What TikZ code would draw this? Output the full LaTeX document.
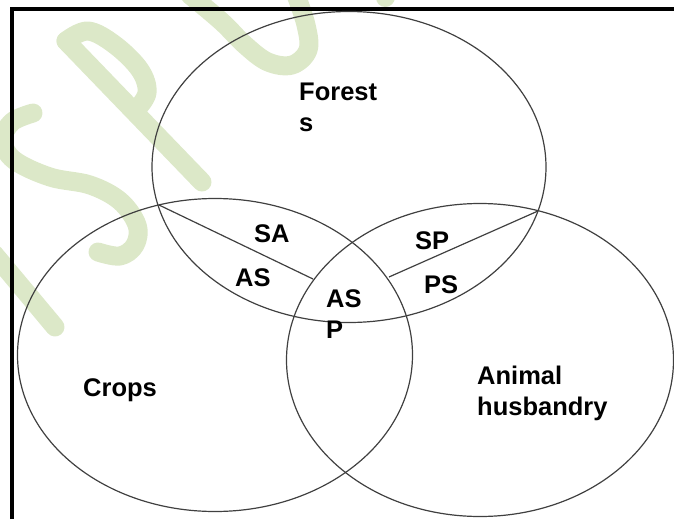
\documentclass[tikz,border=0pt]{standalone}
\usepackage{fontspec}
\setmainfont{Liberation Sans}
\definecolor{wmgreen}{RGB}{220,232,200}
\tikzset{
  venn/.style={draw=black!75, line width=1.2pt},
  frameline/.style={draw=black, line width=3.6pt, line join=miter},
  wmstroke/.style={draw=wmgreen, line width=19pt, line cap=round, line join=round},
  lbl/.style={inner sep=0pt, font=\fontsize{25.5}{31}\selectfont\bfseries, text=black},
}
\begin{document}
\begin{tikzpicture}[x=1pt,y=-1pt]
\useasboundingbox (0,0) rectangle (674,519);
% watermark
\begin{scope}
\clip (0,0) rectangle (674,519);
\draw[wmstroke] (-6,254) -- (55,327);
\draw[wmstroke] plot[smooth, tension=0.6] coordinates {(33,113) (12,122) (3,140) (14,160) (50,177) (90,185) (120,201) (137,225) (135,245) (120,256) (98,252)};
\draw[wmstroke] (66,41) -- (202,182);
\draw[wmstroke] plot[smooth, tension=0.6] coordinates {(66,41) (88,31) (115,45) (140,70) (147,93) (135,111)};
\draw[wmstroke] plot[smooth, tension=0.6] coordinates {(190,-5) (222,22) (245,45) (268,62) (292,65) (308,50) (306,25) (296,-5)};
\draw[wmstroke] (385,-20) -- (385,-2.5);
\end{scope}
% frame
\draw[frameline] (12,519) -- (12,9) -- (674,9);
% circles
\draw[venn] (349,167) ellipse [x radius=197pt, y radius=155.5pt];
\draw[venn] (215,355) ellipse [x radius=197.5pt, y radius=156.5pt];
\draw[venn] (480,360) ellipse [x radius=193.5pt, y radius=156.5pt];
\coordinate (fcL) at (159,205);
\coordinate (saEnd) at (313,279);
\coordinate (faR) at (538,211);
\coordinate (spEnd) at (389,277);
\draw[venn] (fcL) -- (saEnd);
\draw[venn] (faR) -- (spEnd);
% labels
\node[lbl, align=left, anchor=north west] (forest) at (299,82.5) {Forest\\s};
\node[lbl, anchor=base west] (sa) at (254,242) {SA};
\node[lbl, anchor=base west] (as) at (235,286) {AS};
\node[lbl, anchor=base west] (sp) at (415,249) {SP};
\node[lbl, anchor=base west] (ps) at (424,293) {PS};
\node[lbl, align=left, anchor=north west] (asp) at (326,289.5) {AS\\P};
\node[lbl, anchor=base west] (crops) at (83,396) {Crops};
\node[lbl, align=left, anchor=north west] (animal) at (477,365.5) {Animal\\husbandry};
\end{tikzpicture}
\end{document}
